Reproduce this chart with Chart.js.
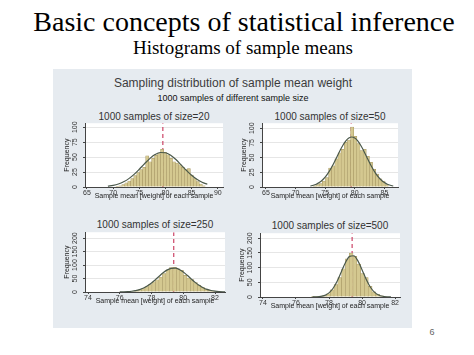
<!DOCTYPE html>
<html><head><meta charset="utf-8">
<script src="https://cdn.jsdelivr.net/npm/chart.js@4.4.1/dist/chart.umd.min.js"></script>
<style>
html,body{margin:0;padding:0;background:#fff;}
body{width:474px;height:355px;position:relative;overflow:hidden;font-family:"Liberation Sans",Arial,sans-serif;}
.t{position:absolute;white-space:nowrap;transform:translate(-50%,-50%);line-height:1;}
#panel{position:absolute;left:53px;top:69px;width:359px;height:259px;background:#e6ebf0;}
canvas{position:absolute;}
</style></head><body>
<div class="t" style="left:244px;top:22px;font-family:'Liberation Serif',serif;font-size:28px;color:#000">Basic concepts of statistical inference</div>
<div class="t" style="left:243px;top:47px;font-family:'Liberation Serif',serif;font-size:19px;color:#000">Histograms of sample means</div>
<div id="panel"></div>
<div class="t" style="left:233px;top:83px;font-size:12px;color:#3c3c3c">Sampling distribution of sample mean weight</div>
<div class="t" style="left:233px;top:98px;font-size:9px;color:#111">1000 samples of different sample size</div>
<div class="t" style="left:432px;top:332px;font-size:9px;color:#666">6</div>
<script>
// ---- data ----
const panelTitles = ["1000 samples of size=20","1000 samples of size=50","1000 samples of size=250","1000 samples of size=500"];
const xTitle = "Sample mean [weight] of each sample";
const yTitle = "Frequency";

const bins20 = [70.80,71.37,71.94,72.51,73.08,73.65,74.22,74.79,75.36,75.93,76.50,77.07,77.64,78.21,78.78,79.35,79.92,80.49,81.06,81.63,82.20,82.77,83.34,83.91,84.48,85.05,85.62,86.19,86.76,87.33];
const freq20 = [1,2,4,7,10,14,19,24,29,33,52,42,48,53,56,63,58,54,48,42,40,37,33,29,31,20,14,9,5,2];
const curveX20 = [69,70,71,72,73,74,75,76,77,78,79,80,81,82,83,84,85,86,87,88];
const curveY20 = [1.4,2.7,5.0,8.7,14.0,21.1,29.7,38.9,47.5,54.2,57.7,57.3,53.1,45.9,37.0,27.9,19.6,12.8,7.9,4.5];
const mean20 = 79.5;
const xTicks20 = [65,70,75,80,85,90];
const yTicks20 = [0,25,50,75,100];

const bins50 = [73.20,73.73,74.26,74.79,75.32,75.85,76.38,76.91,77.44,77.97,78.50,79.03,79.56,80.09,80.62,81.15,81.68,82.21,82.74,83.27,83.80,84.33,84.86,85.39];
const freq50 = [2,4,6,10,16,32,36,48,58,64,76,80,102,86,74,62,64,52,42,30,22,14,10,4];
const curveX50 = [72.5,73,73.5,74,74.5,75,75.5,76,76.5,77,77.5,78,78.5,79,79.5,80,80.5,81,81.5,82,82.5,83,83.5,84,84.5,85,85.5,86,86.5];
const curveY50 = [1.7,2.9,4.8,7.6,11.5,16.8,23.6,31.9,41.4,51.6,61.7,71.0,78.5,83.3,85,83.3,78.5,71.0,61.7,51.6,41.4,31.9,23.6,16.8,11.5,7.6,4.8,2.9,1.7];
const mean50 = 79.4;
const xTicks50 = [65,70,75,80,85];
const yTicks50 = [0,25,50,75,100];

const bins250 = [76.60,76.82,77.04,77.26,77.48,77.70,77.92,78.14,78.36,78.58,78.80,79.02,79.24,79.46,79.68,79.90,80.12,80.34,80.56,80.78,81.00,81.22,81.44,81.66,81.88,82.10];
const freq250 = [1,2,5,8,13,20,28,38,45,55,68,82,91,92,86,80,62,52,46,35,25,17,11,6,3,2];
const curveX250 = [76.00,76.25,76.50,76.75,77.00,77.25,77.50,77.75,78.00,78.25,78.50,78.75,79.00,79.25,79.50,79.75,80.00,80.25,80.50,80.75,81.00,81.25,81.50,81.75,82.00,82.25,82.50,82.75];
const curveY250 = [0.3,0.6,1.3,2.7,5.0,8.8,14.6,22.8,33.4,46.0,59.4,72.1,82.2,88.0,88.6,83.7,74.3,62.0,48.6,35.8,24.7,16.1,9.8,5.6,3.0,1.5,0.7,0.3];
const mean250 = 79.4;
const xTicks250 = [74,76,78,80,82];
const yTicks250 = [0,50,100,150,200];

const bins500 = [77.04,77.27,77.50,77.73,77.96,78.19,78.42,78.65,78.88,79.11,79.34,79.57,79.80,80.03,80.26,80.49,80.72,80.95,81.18,81.41];
const freq500 = [1,1,2,5,11,24,42,66,96,130,149,138,112,80,66,36,18,9,4,1];
const curveX500 = [77.00,77.25,77.50,77.75,78.00,78.25,78.50,78.75,79.00,79.25,79.50,79.75,80.00,80.25,80.50,80.75,81.00,81.25,81.50,81.75];
const curveY500 = [0.2,0.6,2.0,5.7,14.0,29.7,54.4,86.1,117.5,138.3,140.3,122.8,92.7,60.4,33.9,16.4,6.9,2.5,0.8,0.2];
const mean500 = 79.4;
const xTicks500 = [74,76,78,80,82];
const yTicks500 = [0,50,100,150,200];

// ---- layout (page pixels of plot areas) ----
const panels = [
  {title:panelTitles[0], bins:bins20, freq:freq20, cx:curveX20, cy:curveY20, mean:mean20, xt:xTicks20, yt:yTicks20,
   box:[85,123,223,187], xr:[64.62,91.0], ymax:106.7, tpos:[154,117]},
  {title:panelTitles[1], bins:bins50, freq:freq50, cx:curveX50, cy:curveY50, mean:mean50, xt:xTicks50, yt:yTicks50,
   box:[262,123,398,187], xr:[64.34,87.3], ymax:108.5, tpos:[330,117]},
  {title:panelTitles[2], bins:bins250, freq:freq250, cx:curveX250, cy:curveY250, mean:mean250, xt:xTicks250, yt:yTicks250,
   box:[85,232,225,292], xr:[73.81,82.63], ymax:222, tpos:[155,225]},
  {title:panelTitles[3], bins:bins500, freq:freq500, cx:curveX500, cy:curveY500, mean:mean500, xt:xTicks500, yt:yTicks500,
   box:[260,233,400,297], xr:[73.82,82.3], ymax:217, tpos:[330,226]}
];

const whiteArea = {id:'whiteArea', beforeDraw(c){const a=c.chartArea,ctx=c.ctx;ctx.save();ctx.fillStyle='#fff';ctx.fillRect(a.left,a.top,a.right-a.left,a.bottom-a.top);ctx.restore();}};

function draw(p){
  const [L,T,R,B] = p.box;
  const YW=22, XH=13, PT=6, PR=6;
  const w=R-L+YW+PR, h=B-T+PT+XH;
  const tt=document.createElement('div');
  tt.className='t'; tt.textContent=p.title;
  tt.style.cssText=`left:${p.tpos[0]}px;top:${p.tpos[1]}px;font-size:10px;color:#333`;
  document.body.appendChild(tt);
  const cv=document.createElement('canvas');
  cv.width=w; cv.height=h;
  cv.style.left=(L-YW)+'px'; cv.style.top=(T-PT)+'px';
  cv.style.width=w+'px'; cv.style.height=h+'px';
  document.body.appendChild(cv);
  const f7={size:7,family:'Liberation Sans'};
  new Chart(cv,{
    type:'bar',
    data:{datasets:[
      {type:'line',data:[{x:p.mean,y:0},{x:p.mean,y:p.ymax}],borderColor:'#cc4466',borderWidth:1.2,borderDash:[4,3],pointRadius:0,order:3},
      {type:'bar',data:p.bins.map((x,i)=>({x:x,y:p.freq[i]})),backgroundColor:'#d4c890',borderColor:'#a49460',borderWidth:0.5,barPercentage:1,categoryPercentage:1,order:2},
      {type:'line',data:p.cx.map((x,i)=>({x:x,y:p.cy[i]})),borderColor:'#4a584a',borderWidth:1.2,pointRadius:0,cubicInterpolationMode:'monotone',order:1}
    ]},
    options:{
      responsive:false,animation:false,devicePixelRatio:1,
      layout:{padding:{top:PT,right:PR,left:0,bottom:0}},
      plugins:{legend:{display:false},tooltip:{enabled:false}},
      scales:{
        x:{type:'linear',min:p.xr[0],max:p.xr[1],offset:false,
          afterBuildTicks:s=>{s.ticks=p.xt.map(v=>({value:v}));},
          afterFit:s=>{s.height=XH;},
          grid:{drawOnChartArea:false,tickLength:2,color:'#444',offset:false},
          border:{color:'#444',width:1},
          ticks:{font:f7,color:'#333',padding:0,maxRotation:0,autoSkip:false},
          title:{display:true,text:xTitle,font:f7,color:'#222',padding:0}},
        y:{type:'linear',min:0,max:p.ymax,
          afterBuildTicks:s=>{s.ticks=p.yt.map(v=>({value:v}));},
          afterFit:s=>{s.width=YW;},
          grid:{color:'#e6e6e6',tickLength:2,tickColor:'#444'},
          border:{color:'#444',width:1},
          ticks:{font:f7,color:'#333',padding:2,minRotation:90,maxRotation:90,crossAlign:'center',autoSkip:false},
          title:{display:true,text:yTitle,font:f7,color:'#222',padding:0}}
      }
    },
    plugins:[whiteArea]
  });
}
panels.forEach(draw);
</script>
</body></html>
